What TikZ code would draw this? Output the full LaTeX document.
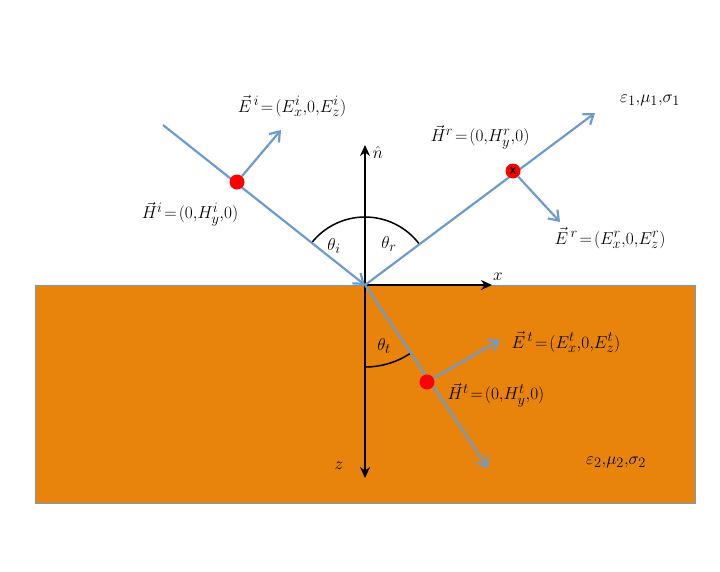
\documentclass[tikz,border=0pt]{standalone}
\usetikzlibrary{arrows.meta}
\definecolor{ray}{RGB}{110,155,205}
\definecolor{med}{RGB}{232,131,12}
\begin{document}
\begin{tikzpicture}[x=1pt,y=-1pt,
  rayline/.style={draw=ray,line width=2.2pt,-{Straight Barb[length=9pt,width=13pt]}},
  axis/.style={draw=black,line width=1.8pt,-{Stealth[length=11pt,width=10pt]}},
  dotn/.style={circle,fill=red,inner sep=0pt,minimum size=15pt},
  lbl/.style={font=\fontsize{19}{22}\selectfont}]
\useasboundingbox (0,0) rectangle (720,571);
\fill[med,draw=ray,line width=0.8pt] (35,285) rectangle (695,503);
\coordinate (O) at (365,285);
\coordinate (Ai) at (163,125);
\coordinate (Br) at (595,113);
\coordinate (Ct) at (488,468);
\coordinate (Ntop) at (365,145);
\coordinate (Nbot) at (365,478);
\coordinate (Xe) at (492,285);
% arcs
\draw[line width=1.5pt] (365,217) arc[start angle=270,end angle=218,radius=68];
\draw[line width=1.5pt] (365,217) arc[start angle=-90,end angle=-37,radius=68];
\draw[line width=1.5pt] (365,367) arc[start angle=90,end angle=56,radius=82];
% axes
\draw[axis] (O) -- (Ntop);
\draw[axis] (O) -- (Nbot);
\draw[axis] (O) -- (Xe);
% rays
\draw[rayline] (Ai) -- (O);
\draw[rayline] (O) -- (Br);
\draw[rayline] (O) -- (Ct);
% field nodes
\node[dotn] (di) at (237,182) {};
\node[dotn] (dr) at (513,171) {\sffamily\bfseries X};
\node[dotn] (dt) at (427,382) {};
\coordinate (ei) at (281,130);
\coordinate (er) at (560,222);
\coordinate (et) at (500,340);
\draw[rayline] (di) -- (ei);
\draw[rayline] (dr) -- (er);
\draw[rayline] (dt) -- (et);
% labels
\node[lbl] (lEi) at (292,106) {$\vec E^{\,i}\!=\!(E^i_x,\!0,\!E^i_z)$};
\node[lbl] (lHi) at (190,214) {$\vec H^{i}\!=\!(0,\!H^i_y,\!0)$};
\node[lbl] (lHr) at (480,137) {$\vec H^{r}\!=\!(0,\!H^r_y,\!0)$};
\node[lbl] (lEr) at (610,238) {$\vec E^{\,r}\!=\!(E^r_x,\!0,\!E^r_z)$};
\node[lbl] (lEt) at (566,342) {$\vec E^{\,t}\!=\!(E^t_x,\!0,\!E^t_z)$};
\node[lbl] (lHt) at (496,395) {$\vec H^{t}\!=\!(0,\!H^t_y,\!0)$};
\node[lbl] (m1) at (650,100) {$\varepsilon_1,\!\mu_1,\!\sigma_1$};
\node[lbl] (m2) at (616,462) {$\varepsilon_2,\!\mu_2,\!\sigma_2$};
\node[lbl] (nh) at (378,152) {$\hat n$};
\node[lbl] (xl) at (498,277) {$x$};
\node[lbl] (zl) at (339,466) {$z$};
\node[lbl] (ti) at (334,246) {$\theta_i$};
\node[lbl] (tr) at (389,244) {$\theta_r$};
\node[lbl] (tt) at (384,346) {$\theta_t$};
\end{tikzpicture}
\end{document}
